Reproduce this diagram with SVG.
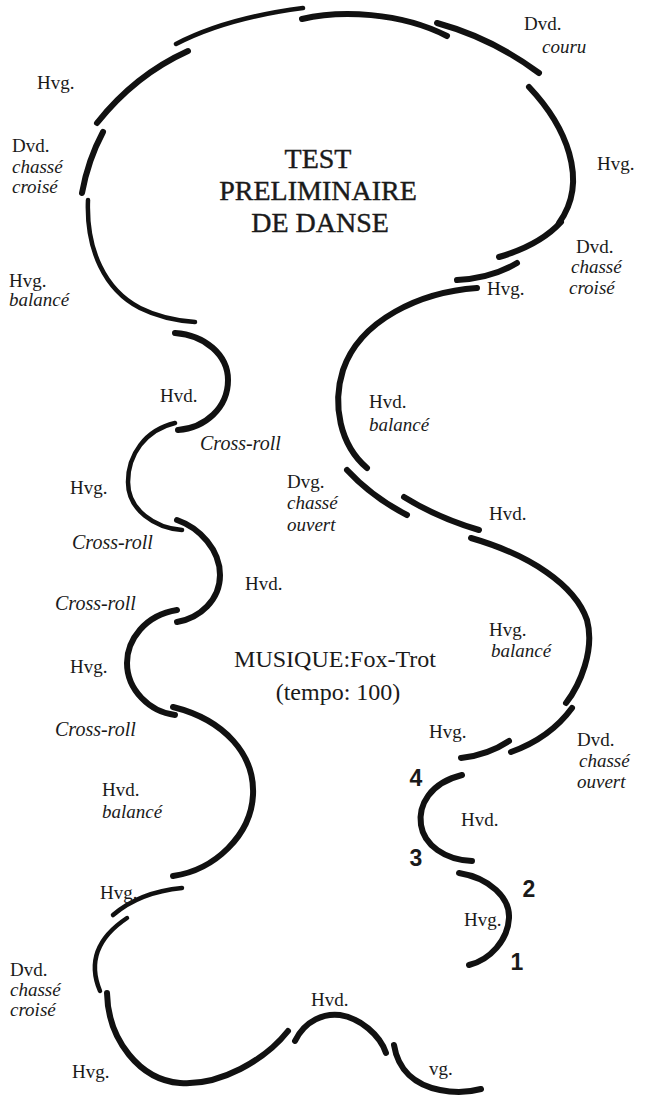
<svg xmlns="http://www.w3.org/2000/svg" width="649" height="1098" viewBox="0 0 649 1098">
<style>
.bg{fill:#ffffff}
.tk{fill:none;stroke:#111;stroke-width:6;stroke-linecap:round}
.tn{fill:none;stroke:#111;stroke-width:4.5;stroke-linecap:round}
.l{font-family:"Liberation Serif","Times New Roman",serif;font-size:19px;fill:#1a1a1a}
.i{font-style:italic}
.c{font-size:20px}
.t{font-family:"Liberation Serif","Times New Roman",serif;font-size:28px;fill:#1a1a1a;text-anchor:middle;stroke:#1a1a1a;stroke-width:0.4}
.m{font-family:"Liberation Serif","Times New Roman",serif;font-size:24px;fill:#1a1a1a;text-anchor:middle}
.n{font-family:"Liberation Sans",Arial,sans-serif;font-size:23px;font-weight:bold;fill:#1a1a1a;text-anchor:middle}
</style>
<rect class="bg" x="0" y="0" width="649" height="1098"/>
<g id="track">
<path class="tn" d="M176,44 Q226,18 303,8"/>
<path class="tk" d="M302,19 C340,10 400,12 447,36"/>
<path class="tk" d="M437,23 Q492,38 539,73"/>
<path class="tk" d="M529,87 C565,125 590,180 559,223"/>
<path class="tk" d="M561,222 Q540,245 499,257"/>
<path class="tk" d="M517,263 Q492,278 457,280"/>
<path class="tk" d="M477,288 C420,292 360,320 343,370 C332,405 340,445 367,468"/>
<path class="tk" d="M347,470 Q372,497 407,515"/>
<path class="tk" d="M404,497 Q438,518 479,530"/>
<path class="tk" d="M471,538 C530,555 575,585 587,620 C595,650 580,685 566,703"/>
<path class="tk" d="M572,708 Q550,738 511,752"/>
<path class="tk" d="M509,741 Q488,755 461,758"/>
<path class="tk" d="M462,775 C430,783 418,805 421,825 C424,845 445,860 472,861"/>
<path class="tk" d="M459,873 C490,878 510,898 509,918 C508,940 490,960 469,965"/>
<path class="tk" d="M295,1041 C305,1020 325,1013 340,1015 C360,1018 380,1035 386,1053"/>
<path class="tk" d="M394,1045 C398,1070 415,1085 440,1090 C455,1093 470,1092 481,1089"/>
<path class="tk" d="M188,51 Q135,75 97,123"/>
<path class="tk" d="M103,132 Q88,160 82,193"/>
<path class="tn" d="M88,200 C86,250 105,290 140,308 C160,318 180,321 195,322"/>
<path class="tk" d="M175,333 C205,335 228,355 228,380 C228,408 205,428 178,430"/>
<path class="tn" d="M175,423 C145,430 128,455 128,482 C128,510 155,528 182,530"/>
<path class="tk" d="M177,520 C200,528 220,550 220,575 C220,600 200,618 177,622"/>
<path class="tk" d="M177,610 C145,615 127,640 127,663 C127,690 150,712 175,715"/>
<path class="tk" d="M173,707 C225,720 255,755 253,795 C251,835 215,870 173,876"/>
<path class="tn" d="M182,888 Q140,892 113,915"/>
<path class="tn" d="M127,918 Q82,948 100,991"/>
<path class="tk" d="M107,993 C108,1040 140,1080 180,1083 C220,1086 265,1060 288,1031"/>
</g>
<g id="title">
<text class="t" x="318" y="168">TEST</text>
<text class="t" x="318" y="200">PRELIMINAIRE</text>
<text class="t" x="320" y="232">DE DANSE</text>
</g>
<g id="music">
<text class="m" x="335" y="667">MUSIQUE:Fox-Trot</text>
<text class="m" x="338" y="700">(tempo: 100)</text>
</g>
<g id="labels-top">
<text class="l" x="524" y="30">Dvd.</text>
<text class="l i" x="542" y="53">couru</text>
<text class="l" x="37" y="89">Hvg.</text>
<text class="l" x="12" y="152">Dvd.</text>
<text class="l i" x="12" y="173">chassé</text>
<text class="l i" x="12" y="193">croisé</text>
<text class="l" x="597" y="170">Hvg.</text>
<text class="l" x="576" y="253">Dvd.</text>
<text class="l i" x="571" y="273">chassé</text>
<text class="l i" x="569" y="294">croisé</text>
<text class="l" x="487" y="295">Hvg.</text>
<text class="l" x="9" y="287">Hvg.</text>
<text class="l i" x="9" y="306">balancé</text>
</g>
<g id="labels-middle">
<text class="l" x="160" y="402">Hvd.</text>
<text class="l i c" x="200" y="450">Cross-roll</text>
<text class="l" x="369" y="408">Hvd.</text>
<text class="l i" x="369" y="431">balancé</text>
<text class="l" x="287" y="488">Dvg.</text>
<text class="l i" x="287" y="509">chassé</text>
<text class="l i" x="287" y="531">ouvert</text>
<text class="l" x="70" y="494">Hvg.</text>
<text class="l" x="489" y="520">Hvd.</text>
<text class="l i c" x="72" y="549">Cross-roll</text>
<text class="l" x="245" y="590">Hvd.</text>
<text class="l i c" x="55" y="610">Cross-roll</text>
<text class="l" x="489" y="636">Hvg.</text>
<text class="l i" x="491" y="657">balancé</text>
<text class="l" x="70" y="673">Hvg.</text>
<text class="l i c" x="55" y="736">Cross-roll</text>
<text class="l" x="429" y="738">Hvg.</text>
<text class="l" x="577" y="746">Dvd.</text>
<text class="l i" x="579" y="767">chassé</text>
<text class="l i" x="577" y="788">ouvert</text>
<text class="l" x="102" y="796">Hvd.</text>
<text class="l i" x="102" y="818">balancé</text>
<text class="l" x="461" y="826">Hvd.</text>
</g>
<g id="labels-bottom">
<text class="l" x="100" y="899">Hvg.</text>
<text class="l" x="464" y="926">Hvg.</text>
<text class="l" x="10" y="976">Dvd.</text>
<text class="l i" x="10" y="996">chassé</text>
<text class="l i" x="10" y="1016">croisé</text>
<text class="l" x="311" y="1006">Hvd.</text>
<text class="l" x="429" y="1075">vg.</text>
<text class="l" x="72" y="1078">Hvg.</text>
</g>
<g id="numbers">
<text class="n" x="416" y="786">4</text>
<text class="n" x="416" y="866">3</text>
<text class="n" x="529" y="897">2</text>
<text class="n" x="517" y="970">1</text>
</g>
</svg>
